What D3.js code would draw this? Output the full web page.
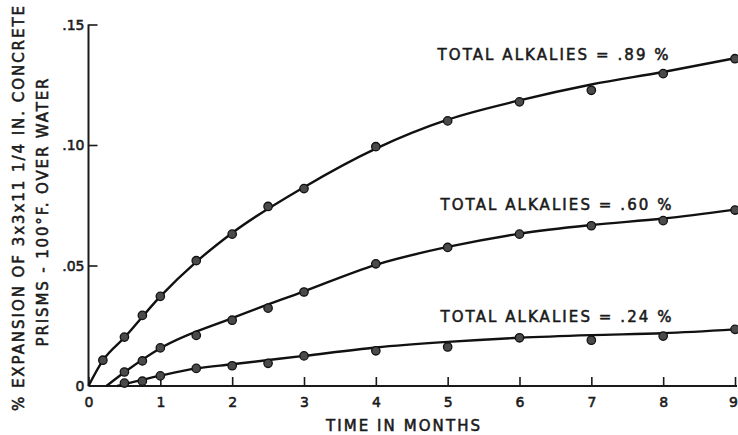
<!DOCTYPE html>
<html>
<head>
<meta charset="utf-8">
<script src="https://cdn.jsdelivr.net/npm/d3@7"></script>
<style>
  body { margin: 0; background: #fff; }
  svg { display: block; }
  text { font-family: "DejaVu Sans", sans-serif; fill: #1a1a1a; stroke: #1a1a1a; stroke-width: 0.55px; }
</style>
</head>
<body>
<div id="chart"></div>
<script>
// measured points (months, % expansion)
var months89 = [0.2, 0.5, 0.75, 1, 1.5, 2, 2.5, 3, 4, 5, 6, 7, 8, 9];
var values89 = [0.0107, 0.0203, 0.0293, 0.0372, 0.052, 0.063, 0.0745, 0.0819, 0.0993, 0.110, 0.1179, 0.1227, 0.1296, 0.1358];

var months60 = [0.5, 0.75, 1, 1.5, 2, 2.5, 3, 4, 5, 6, 7, 8, 9];
var values60 = [0.0058, 0.0104, 0.0158, 0.021, 0.0273, 0.0323, 0.039, 0.0507, 0.0575, 0.063, 0.0665, 0.0686, 0.073];

var months24 = [0.5, 0.75, 1, 1.5, 2, 2.5, 3, 4, 5, 6, 7, 8, 9];
var values24 = [0.0012, 0.002, 0.0042, 0.0073, 0.0084, 0.0094, 0.0125, 0.0146, 0.0162, 0.020, 0.019, 0.0207, 0.0235];

// fitted curves
var curve89 = [[0, 0], [0.2, 0.0106], [0.5, 0.0201], [1, 0.0372], [1.5, 0.0515], [2, 0.0635], [3, 0.0825], [4, 0.0985], [5, 0.1105], [6, 0.1185], [7, 0.1251], [8, 0.1303], [9, 0.136]];
var curve60 = [[0.25, 0], [0.5, 0.0057], [1, 0.0157], [2, 0.0282], [3, 0.0393], [4, 0.0503], [5, 0.0577], [6, 0.0632], [7, 0.0668], [8, 0.0695], [9, 0.0732]];
var curve24 = [[0.4, 0], [1, 0.0043], [1.5, 0.0073], [2, 0.009], [3, 0.0125], [4, 0.016], [5, 0.0183], [6, 0.020], [7, 0.0211], [8, 0.0219], [9, 0.0235]];

var seriesLabels = ["TOTAL ALKALIES = .89 %", "TOTAL ALKALIES = .60 %", "TOTAL ALKALIES = .24 %"];

var xTicks = [0, 1, 2, 3, 4, 5, 6, 7, 8, 9];
var yTicks = [0, 0.05, 0.10, 0.15];
var yTickLabels = ["0", ".05", ".10", ".15"];

var xTitle = "TIME IN MONTHS";
var yTitle1 = "% EXPANSION OF 3x3x11 1/4 IN. CONCRETE";
var yTitle2 = "PRISMS - 100°F. OVER WATER";

const WIDTH = 738;
const HEIGHT = 435;
const LEFT = 88.5;
const RIGHT = 735;
const TOP = 24.5;
const BOTTOM = 386;

var xScale = d3.scaleLinear().domain([0, 9]).range([LEFT, RIGHT]);
var yScale = d3.scaleLinear().domain([0, 0.15]).range([BOTTOM, TOP]);

var svg = d3.select('#chart').append('svg')
  .attr('width', WIDTH)
  .attr('height', HEIGHT);

// axes
var xAxis = d3.axisBottom(xScale).tickValues(xTicks).tickSize(-9).tickFormat(d3.format('d'));
var yAxis = d3.axisLeft(yScale).tickValues(yTicks).tickSize(-9)
  .tickFormat(function(d, i){ return yTickLabels[i]; });

var gx = svg.append('g')
  .attr('transform', 'translate(0,' + BOTTOM + ')')
  .call(xAxis);
gx.select('.domain').attr('d', 'M' + LEFT + ',0H737').attr('stroke', '#1a1a1a').attr('stroke-width', 2);

var gy = svg.append('g')
  .attr('transform', 'translate(' + LEFT + ',0)')
  .call(yAxis);
gy.select('.domain').attr('d', 'M0,' + TOP + 'V' + BOTTOM).attr('stroke', '#1a1a1a').attr('stroke-width', 2);

svg.selectAll('.tick line').attr('stroke', '#1a1a1a').attr('stroke-width', 1.6);
svg.selectAll('.tick text').style('font-size', '14px').attr('fill', '#1a1a1a');
gx.selectAll('.tick text').attr('dy', '0.35em').attr('y', 16)
  .attr('x', function(d){ return d === 9 ? -2 : 0; });
gy.selectAll('.tick text').attr('x', -4).attr('dy', '0.35em');
gy.selectAll('.tick').filter(function(d){ return d === 0; }).select('line').remove();

// fitted curves
var line = d3.line()
  .x(function(d){ return xScale(d[0]); })
  .y(function(d){ return yScale(d[1]); })
  .curve(d3.curveMonotoneX);

[curve89, curve60, curve24].forEach(function(c){
  svg.append('path')
    .attr('d', line(c))
    .attr('fill', 'none')
    .attr('stroke', '#111')
    .attr('stroke-width', 2.4);
});

// measured points
var sets = [[months89, values89], [months60, values60], [months24, values24]];
sets.forEach(function(s){
  svg.append('g').selectAll('circle')
    .data(s[0])
    .enter().append('circle')
    .attr('cx', function(d){ return xScale(d); })
    .attr('cy', function(d, i){ return yScale(s[1][i]); })
    .attr('r', 4.2)
    .attr('fill', '#4a4a4a')
    .attr('stroke', '#111')
    .attr('stroke-width', 1.3);
});

// series labels
var labelPos = [[4.86, 0.1373], [4.9, 0.0751], [4.9, 0.0286]];
seriesLabels.forEach(function(t, i){
  svg.append('text')
    .attr('x', xScale(labelPos[i][0]))
    .attr('y', yScale(labelPos[i][1]))
    .attr('dominant-baseline', 'central')
    .attr('textLength', 231)
    .attr('lengthAdjust', 'spacing')
    .style('font-size', '15px')
    .text(t);
});

// axis titles
svg.append('text')
  .attr('x', 326)
  .attr('y', 426)
  .attr('dominant-baseline', 'central')
  .attr('textLength', 154)
  .attr('lengthAdjust', 'spacing')
  .style('font-size', '15px')
  .text(xTitle);

svg.append('text')
  .attr('transform', 'translate(19,208.5) rotate(-90)')
  .attr('text-anchor', 'middle')
  .attr('dominant-baseline', 'central')
  .attr('textLength', 405)
  .attr('lengthAdjust', 'spacing')
  .style('font-size', '15px')
  .text(yTitle1);

svg.append('text')
  .attr('transform', 'translate(42.5,212.5) rotate(-90)')
  .attr('text-anchor', 'middle')
  .attr('dominant-baseline', 'central')
  .attr('textLength', 268)
  .attr('lengthAdjust', 'spacing')
  .style('font-size', '15px')
  .text(yTitle2);
</script>
</body>
</html>
